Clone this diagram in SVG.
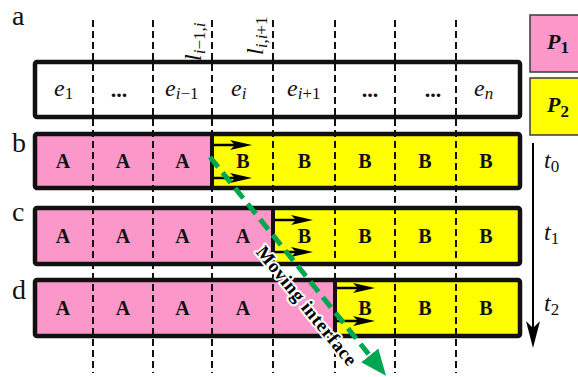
<svg xmlns="http://www.w3.org/2000/svg" width="578" height="377" viewBox="0 0 578 377">
<defs>
<marker id="ah" markerUnits="userSpaceOnUse" viewBox="0 0 22 10" refX="5" refY="5" markerWidth="22" markerHeight="10" orient="auto"><path d="M0,0 L22,5 L0,10 L5,5 Z" fill="#000"/></marker>
<marker id="gh" markerUnits="userSpaceOnUse" viewBox="0 0 26 22" refX="2" refY="11" markerWidth="26" markerHeight="22" orient="auto"><path d="M0,0 L26,11 L0,22 Z" fill="#00a650"/></marker>
<marker id="th" markerUnits="userSpaceOnUse" viewBox="0 0 27 14" refX="8" refY="7" markerWidth="27" markerHeight="14" orient="auto"><path d="M0,0 L27,7 L0,14 L7,7 Z" fill="#000"/></marker>
</defs>
<style>
.pink{fill:#fb97c9}
.yel{fill:#ffff00}
.frame{fill:none;stroke:#111;stroke-width:4.5}
.iface{stroke:#111;stroke-width:4}
.dash{stroke:#111;stroke-width:2;stroke-dasharray:7 4;fill:none}
.arr{stroke:#000;stroke-width:2.5;fill:none;marker-end:url(#ah)}
.lbl{font-family:"Liberation Serif",serif;font-size:28px;fill:#111}
.ab{font-family:"Liberation Serif",serif;font-weight:bold;font-size:20px;text-anchor:middle;fill:#111}
.em{font-family:"Liberation Serif",serif;font-style:italic;font-size:24px;fill:#111}
.sub{font-size:17px}
.up{font-style:normal}
.dots{font-family:"Liberation Serif",serif;font-weight:bold;font-size:22px;text-anchor:middle;fill:#111}
.leg{stroke:#3a3a3a;stroke-width:1.5}
.pl{font-family:"Liberation Serif",serif;font-weight:bold;font-style:italic;font-size:22px;fill:#111}
</style>

<g id="row-labels">
<text class="lbl" x="12" y="25">a</text>
<text class="lbl" x="12" y="152">b</text>
<text class="lbl" x="12" y="221">c</text>
<text class="lbl" x="12" y="299">d</text>
</g>

<g id="row-a">
<rect x="35" y="62" width="485" height="55" fill="#fff"/>
<text class="em" x="54" y="96">e<tspan class="sub up" dy="3">1</tspan></text>
<text class="dots" x="119" y="97">...</text>
<text class="em" x="165" y="96">e<tspan class="sub" dy="3">i</tspan><tspan class="sub up">−1</tspan></text>
<text class="em" x="231" y="96">e<tspan class="sub" dy="3">i</tspan></text>
<text class="em" x="287" y="96">e<tspan class="sub" dy="3">i</tspan><tspan class="sub up">+1</tspan></text>
<text class="dots" x="370" y="97">...</text>
<text class="dots" x="433" y="97">...</text>
<text class="em" x="474" y="96">e<tspan class="sub" dy="3">n</tspan></text>
</g>

<g id="row-b">
<rect class="pink" x="35" y="134" width="177" height="54"/>
<rect class="yel" x="212" y="134" width="308" height="54"/>
<text class="ab" x="63" y="168">A</text>
<text class="ab" x="123" y="168">A</text>
<text class="ab" x="182.5" y="168">A</text>
<text class="ab" x="243" y="168">B</text>
<text class="ab" x="304.5" y="168">B</text>
<text class="ab" x="365" y="168">B</text>
<text class="ab" x="425" y="168">B</text>
<text class="ab" x="486" y="168">B</text>
</g>

<g id="row-c">
<rect class="pink" x="35" y="208" width="238" height="56"/>
<rect class="yel" x="273" y="208" width="247" height="56"/>
<text class="ab" x="63" y="243">A</text>
<text class="ab" x="123" y="243">A</text>
<text class="ab" x="182.5" y="243">A</text>
<text class="ab" x="243" y="243">A</text>
<text class="ab" x="304.5" y="243">B</text>
<text class="ab" x="365" y="243">B</text>
<text class="ab" x="425" y="243">B</text>
<text class="ab" x="486" y="243">B</text>
</g>

<g id="row-d">
<rect class="pink" x="35" y="280" width="300" height="56"/>
<rect class="yel" x="335" y="280" width="185" height="56"/>
<text class="ab" x="63" y="314.5">A</text>
<text class="ab" x="123" y="314.5">A</text>
<text class="ab" x="182.5" y="314.5">A</text>
<text class="ab" x="243" y="314.5">A</text>
<text class="ab" x="365" y="314.5">B</text>
<text class="ab" x="425" y="314.5">B</text>
<text class="ab" x="486" y="314.5">B</text>
</g>

<g id="cell-boundaries">
<path class="dash" d="M93,20V373 M153,20V373 M212,20V373 M273,20V373 M335,20V373 M395,20V373 M456,20V373"/>
</g>

<g id="frames">
<rect class="frame" x="35" y="62" width="485" height="55" rx="2"/>
<rect class="frame" x="35" y="134" width="485" height="54" rx="2"/>
<rect class="frame" x="35" y="208" width="485" height="56" rx="2"/>
<rect class="frame" x="35" y="280" width="485" height="56" rx="2"/>
<path class="iface" d="M212,134V188 M273,208V264 M335,280V336"/>
</g>

<g id="boundary-labels">
<text class="em" transform="translate(201,61) rotate(-90)">l<tspan class="sub" dy="4">i</tspan><tspan class="sub up">−1,</tspan><tspan class="sub">i</tspan></text>
<text class="em" transform="translate(263,55) rotate(-90)">l<tspan class="sub" dy="4">i,i</tspan><tspan class="sub up">+1</tspan></text>
</g>

<g id="connectors">
<path class="arr" d="M214,145H235"/>
<path class="arr" d="M214,178H235"/>
<path class="arr" d="M275,220H296"/>
<path class="arr" d="M275,252H296"/>
<path class="arr" d="M337,288H358"/>
<path class="arr" d="M337,321H358"/>
<path d="M210,157L371,357" stroke="#00a650" stroke-width="5" stroke-dasharray="13 7" fill="none" marker-end="url(#gh)"/>
<path d="M533,143V329" stroke="#000" stroke-width="2" fill="none" marker-end="url(#th)"/>
</g>

<g id="moving-interface-label">
<text transform="translate(302,310) rotate(51)" text-anchor="middle" font-family="Liberation Serif, serif" font-weight="bold" font-size="19" letter-spacing="0.6" fill="#000" stroke="#fff" stroke-width="4" stroke-linejoin="round" paint-order="stroke">Moving interface</text>
</g>

<g id="legend-p1">
<rect class="pink leg" x="530" y="15" width="60" height="57"/>
<text class="pl" x="547" y="49">P<tspan font-style="normal" font-size="17" dy="4">1</tspan></text>
</g>
<g id="legend-p2">
<rect class="yel leg" x="530" y="78" width="60" height="57"/>
<text class="pl" x="547" y="112">P<tspan font-style="normal" font-size="17" dy="5">2</tspan></text>
</g>

<g id="time-labels">
<text class="em" x="544" y="168">t<tspan class="sub up" dy="4">0</tspan></text>
<text class="em" x="544" y="240">t<tspan class="sub up" dy="4">1</tspan></text>
<text class="em" x="544" y="311">t<tspan class="sub up" dy="4">2</tspan></text>
</g>
</svg>
